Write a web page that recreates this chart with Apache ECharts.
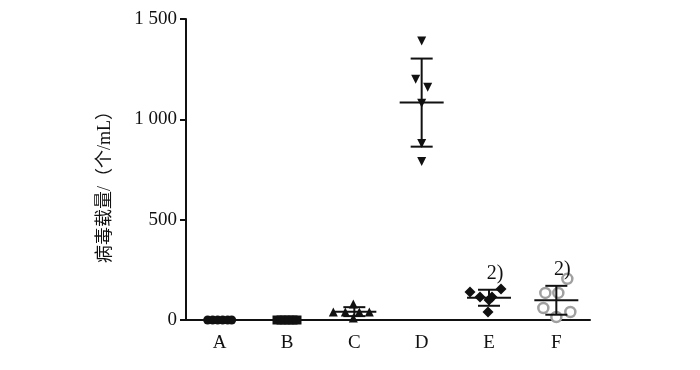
<!DOCTYPE html>
<html><head><meta charset="utf-8">
<script src="https://cdn.jsdelivr.net/npm/echarts@6/dist/echarts.min.js"></script>
<style>html,body{margin:0;padding:0;background:#fff}#c{width:700px;height:370px}</style>
</head><body><div id="c"></div>
<script>
const categories = ['A','B','C','D','E','F'];
const yTicks = [0, 500, 1000, 1500];
const valuesA = [0, 0, 0, 0, 0, 0];
const valuesB = [0, 0, 0, 0, 0, 0];
const valuesC = [40, 40, 80, 40, 40, 10];
const valuesD = [1390, 1200, 1160, 1080, 880, 790];
const valuesE = [140, 155, 115, 115, 40, 100];
const valuesF = [205, 135, 135, 60, 40, 15];
const annotations = ['', '', '', '', '2)', '2)'];
// horizontal jitter of points inside each group (pixels)
const jitterA = [-12, -7, -2, 3, 8, 12];
const jitterB = [-10, -6, -2, 2, 6, 10];
const jitterC = [-21, -9, -1, 5, 15, -1];
const jitterD = [0, -6, 6, 0, 0, 0];
const jitterE = [-19, 12, -9, 3, -1, 0];
const jitterF = [11, -11, 2, -13, 14, 0];

const groups = [valuesA, valuesB, valuesC, valuesD, valuesE, valuesF];
const jitters = [jitterA, jitterB, jitterC, jitterD, jitterE, jitterF];
const symbols = ['circle', 'rect', 'triangle', 'triangle', 'diamond', 'circle'];
const serif = 'Liberation Serif, Times New Roman, serif';

function mean(a){return a.reduce((s,v)=>s+v,0)/a.length;}
function sd(a){const m=mean(a);return Math.sqrt(a.reduce((s,v)=>s+(v-m)*(v-m),0)/(a.length-1));}

const series = [];
groups.forEach((vals, gi) => {
  const isF = gi === 5;
  series.push({
    type: 'scatter',
    symbol: symbols[gi],
    symbolSize: gi === 4 ? 11 : (isF ? 10 : 9),
    symbolRotate: gi === 3 ? 180 : 0,
    itemStyle: isF ? {color: '#ffffff', borderColor: '#a0a0a0', borderWidth: 2.5, opacity: 1}
                   : {color: '#111', opacity: 1},
    z: isF ? 1 : 3,
    data: vals.map((v, i) => ({value: [gi, v], symbolOffset: [jitters[gi][i], 0]}))
  });
});

const stats = groups.map((vals, gi) => [gi, mean(vals), sd(vals), annotations[gi]]);

series.push({
  type: 'custom',
  z: 5,
  data: stats,
  renderItem: function(params, api){
    const x = api.value(0), m = api.value(1), s = api.value(2);
    const pm = api.coord([x, m]);
    const pt = api.coord([x, m + s]);
    const pb = api.coord([x, Math.max(m - s, 0)]);
    const st = {stroke: '#111', lineWidth: 2};
    const ch = [
      {type:'line', shape:{x1:pm[0], y1:pt[1], x2:pm[0], y2:pb[1]}, style:st},
      {type:'line', shape:{x1:pm[0]-11, y1:pt[1], x2:pm[0]+11, y2:pt[1]}, style:st},
      {type:'line', shape:{x1:pm[0]-11, y1:pb[1], x2:pm[0]+11, y2:pb[1]}, style:st},
      {type:'line', shape:{x1:pm[0]-22, y1:pm[1], x2:pm[0]+22, y2:pm[1]}, style:st}
    ];
    const lab = stats[params.dataIndex][3];
    if (lab) {
      ch.push({type:'text', style:{text: lab, x: pm[0] + 6, y: pt[1] - 6,
        textAlign:'center', textVerticalAlign:'bottom', fill:'#111',
        font: '20px ' + serif}});
    }
    return {type:'group', children: ch};
  }
});

const chart = echarts.init(document.getElementById('c'));
chart.setOption({
  animation: false,
  backgroundColor: '#fff',
  grid: {left: 186, right: 110, top: 19, bottom: 50},
  xAxis: {
    type: 'category', data: categories, boundaryGap: true,
    axisLine: {lineStyle: {color: '#111', width: 2}},
    axisTick: {alignWithLabel: true, length: 6, lineStyle: {color: '#111', width: 2}},
    axisLabel: {color: '#111', fontFamily: serif, fontSize: 19, margin: 14},
    splitLine: {show: false}
  },
  yAxis: {
    type: 'value', min: yTicks[0], max: yTicks[yTicks.length-1], interval: 500,
    axisLine: {show: true, lineStyle: {color: '#111', width: 2}},
    axisTick: {show: true, length: 6, lineStyle: {color: '#111', width: 2}},
    axisLabel: {color: '#111', fontFamily: serif, fontSize: 19, margin: 9,
      formatter: v => String(v).replace(/\B(?=(\d{3})+(?!\d))/g, ' ')},
    splitLine: {show: false},
    name: '病毒载量/（个/mL）', nameLocation: 'middle', nameGap: 72, nameRotate: 90,
    nameTextStyle: {color: '#111', fontFamily: 'Liberation Serif, Noto Sans CJK SC', fontSize: 18,
      padding: [0, 26, 0, 0]}
  },
  series: series
});
</script></body></html>
